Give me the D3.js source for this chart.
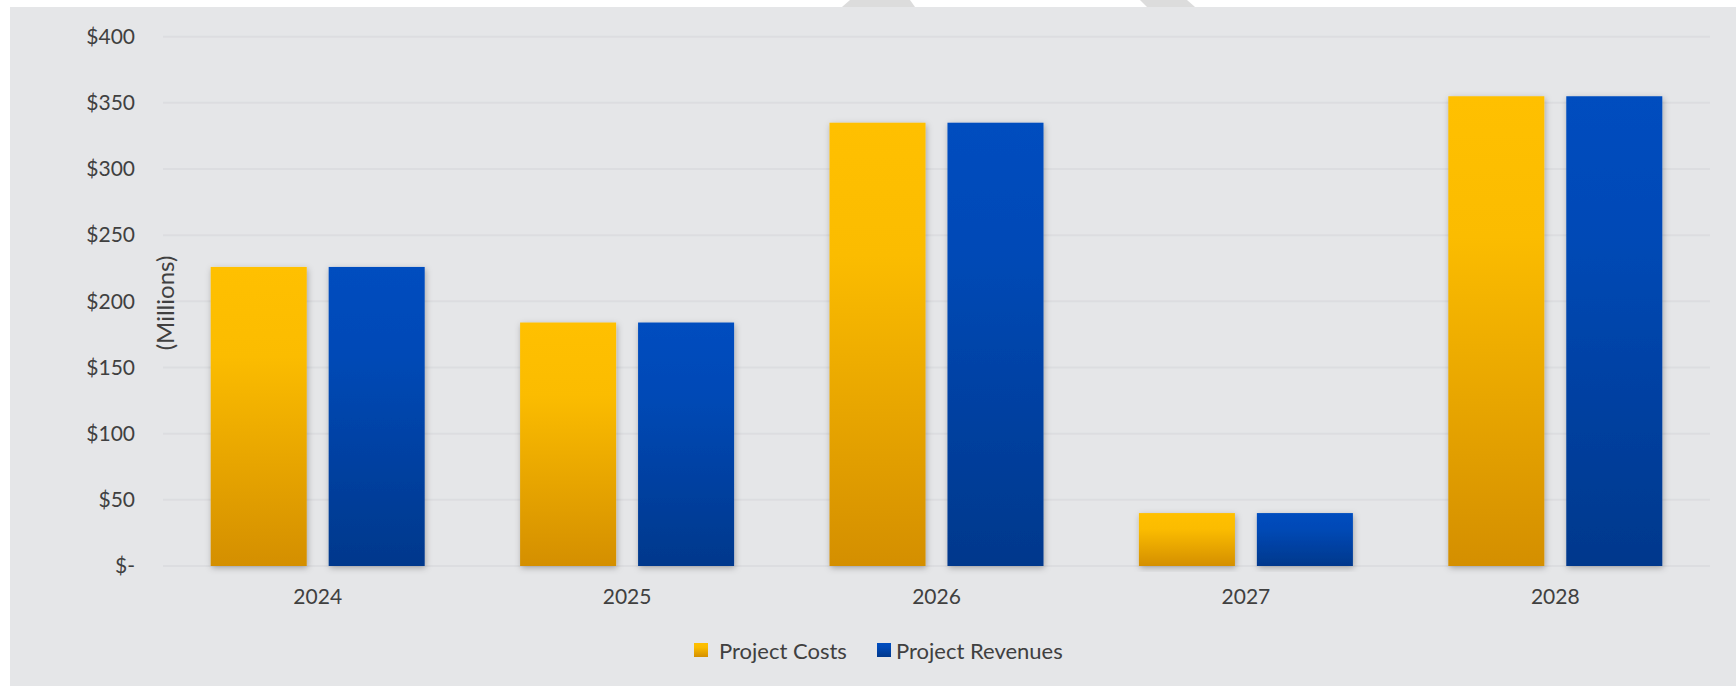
<!DOCTYPE html>
<html>
<head>
<meta charset="utf-8">
<script src="https://cdn.jsdelivr.net/npm/d3@7"></script>
<style>
  body { margin: 0; background: #ffffff; }
  svg { display: block; }
  text { font-family: Lato, "Open Sans", sans-serif; fill: #404040; }
</style>
</head>
<body>
<div id="chart"></div>
<script>
// values, in millions of dollars
const years = ["2024", "2025", "2026", "2027", "2028"];
const seriesNames = ["Project Costs", "Project Revenues"];
const projectCosts = [226, 184, 335, 40, 355];
const projectRevenues = [226, 184, 335, 40, 355];
const yTicks = [0, 50, 100, 150, 200, 250, 300, 350, 400];

const width = 1736, height = 686;
const plot = {left: 163, right: 1710, top: 36.7, bottom: 566};

const svg = d3.select("#chart").append("svg")
    .attr("width", width)
    .attr("height", height);

const defs = svg.append("defs");

const gradients = [
    {id: "grad-costs", stops: [["0%", "#ffc000"], ["30%", "#fbbc00"], ["100%", "#d48f00"]]},
    {id: "grad-revenues", stops: [["0%", "#004dbf"], ["30%", "#0049b6"], ["100%", "#00388c"]]}
];
gradients.forEach(g => {
    defs.append("linearGradient")
        .attr("id", g.id)
        .attr("x1", 0).attr("y1", 0).attr("x2", 0).attr("y2", 1)
        .selectAll("stop")
        .data(g.stops)
        .join("stop")
        .attr("offset", d => d[0])
        .attr("stop-color", d => d[1]);
});

defs.append("filter")
    .attr("id", "bar-shadow")
    .attr("x", "-20%").attr("y", "-10%").attr("width", "140%").attr("height", "120%")
    .append("feDropShadow")
    .attr("dx", 1).attr("dy", 2)
    .attr("stdDeviation", 3)
    .attr("flood-color", "#000")
    .attr("flood-opacity", 0.28);

// little grey shapes poking out above the panel
svg.append("polygon")
    .attr("points", "850,0 910,0 915,7 842,7")
    .attr("fill", "#dcdcdc");
svg.append("polygon")
    .attr("points", "1140,0 1187,0 1195,7 1147,7")
    .attr("fill", "#dcdcdc");

// panel
svg.append("rect")
    .attr("x", 10).attr("y", 7)
    .attr("width", width - 10).attr("height", height - 7)
    .attr("fill", "#e5e6e8");

const y = d3.scaleLinear()
    .domain([0, 400])
    .range([plot.bottom, plot.top]);

const x0 = d3.scaleBand()
    .domain(years)
    .range([plot.left, plot.right])
    .padding(0);

const groupWidth = 214;
const x1 = d3.scaleBand()
    .domain(seriesNames)
    .range([(x0.bandwidth() - groupWidth) / 2, (x0.bandwidth() + groupWidth) / 2])
    .paddingInner(0.186);

// gridlines
svg.append("g")
    .selectAll("line")
    .data(yTicks)
    .join("line")
    .attr("x1", plot.left)
    .attr("x2", plot.right)
    .attr("y1", d => y(d))
    .attr("y2", d => y(d))
    .attr("stroke", "#dcdde0")
    .attr("stroke-width", 2);

// y axis labels
const yAxis = d3.axisLeft(y)
    .tickValues(yTicks)
    .tickSize(0)
    .tickPadding(0)
    .tickFormat(d => d === 0 ? "$-" : "$" + d);

svg.append("g")
    .attr("transform", "translate(135,0)")
    .call(yAxis)
    .call(g => g.select(".domain").remove())
    .selectAll("text")
    .attr("font-size", 21)
    .attr("font-family", "Lato, sans-serif")
    .attr("fill", "#404040");

svg.append("text")
    .attr("transform", "translate(164,303) rotate(-90)")
    .attr("text-anchor", "middle")
    .attr("dominant-baseline", "central")
    .attr("font-size", 24)
    .text("(Millions)");

// bars
const rows = years.map((yr, i) => ({
    year: yr,
    values: [
        {name: seriesNames[0], value: projectCosts[i], fill: "url(#grad-costs)"},
        {name: seriesNames[1], value: projectRevenues[i], fill: "url(#grad-revenues)"}
    ]
}));

svg.append("g")
    .selectAll("g")
    .data(rows)
    .join("g")
    .attr("transform", d => `translate(${x0(d.year)},0)`)
    .selectAll("rect")
    .data(d => d.values)
    .join("rect")
    .attr("x", d => x1(d.name))
    .attr("y", d => y(d.value))
    .attr("width", x1.bandwidth())
    .attr("height", d => y(0) - y(d.value))
    .attr("fill", d => d.fill)
    .attr("filter", "url(#bar-shadow)");

// x axis labels
const xAxis = d3.axisBottom(x0).tickSize(0).tickPadding(0);
svg.append("g")
    .attr("transform", `translate(0,${plot.bottom})`)
    .call(xAxis)
    .call(g => g.select(".domain").remove())
    .selectAll("text")
    .attr("y", 31)
    .attr("dy", "0.35em")
    .attr("font-size", 21)
    .attr("font-family", "Lato, sans-serif")
    .attr("fill", "#404040");

// legend
const legendItems = [
    {name: seriesNames[0], fill: "url(#grad-costs)", x: 694, tx: 719},
    {name: seriesNames[1], fill: "url(#grad-revenues)", x: 877, tx: 896}
];
const legend = svg.append("g")
    .selectAll("g")
    .data(legendItems)
    .join("g");
legend.append("rect")
    .attr("x", d => d.x)
    .attr("y", 643)
    .attr("width", 14)
    .attr("height", 14)
    .attr("fill", d => d.fill);
legend.append("text")
    .attr("x", d => d.tx)
    .attr("y", 650)
    .attr("dominant-baseline", "central")
    .attr("font-size", 22)
    .text(d => d.name);
</script>
</body>
</html>
